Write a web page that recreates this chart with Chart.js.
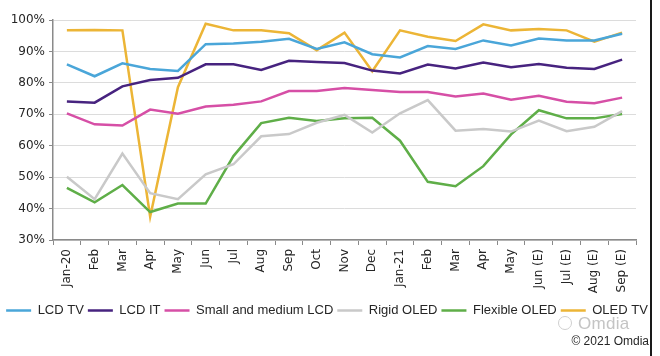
<!DOCTYPE html>
<html>
<head>
<meta charset="utf-8">
<script src="https://cdn.jsdelivr.net/npm/chart.js@4/dist/chart.umd.min.js"></script>
<style>
  html, body { margin: 0; padding: 0; background: #ffffff; }
  #wrap { position: relative; width: 660px; height: 356px; overflow: hidden; }
  #c { position: absolute; left: 0; top: 0; }
  #border { position: absolute; left: 650px; top: 0; width: 2px; height: 356px; background: #1a1a1a; }
  #wm { position: absolute; left: 558px; top: 314px; font-family: "Liberation Sans", sans-serif; font-size: 17px; color: #c4c4c4; letter-spacing: 0.3px; }
  #wm .ic { display: inline-block; width: 12px; height: 12px; border: 1.5px solid #cfcfcf; border-radius: 50%; margin-right: 6px; vertical-align: -1px; }
  #copy { position: absolute; right: 11px; top: 334px; font-family: "Liberation Sans", sans-serif; font-size: 12px; color: #262626; }
</style>
</head>
<body>
<div id="wrap">
  <canvas id="c" width="660" height="356"></canvas>
  <div id="border"></div>
  <div id="wm"><span class="ic"></span>Omdia</div>
  <div id="copy">© 2021 Omdia</div>
</div>
<script>
const categories = ["Jan-20","Feb","Mar","Apr","May","Jun","Jul","Aug","Sep","Oct","Nov","Dec","Jan-21","Feb","Mar","Apr","May","Jun (E)","Jul (E)","Aug (E)","Sep (E)"];
const lcdTV      = [85.9,82.1,86.2,84.4,83.8,92.3,92.5,93.1,94.0,90.8,92.9,89.1,88.1,91.7,90.8,93.5,91.9,94.1,93.5,93.5,95.6];
const lcdIT      = [74.1,73.7,78.9,80.9,81.6,85.9,85.9,84.1,87.0,86.6,86.3,83.9,83.0,85.8,84.6,86.5,85.0,86.0,84.8,84.4,87.4];
const smallMedLCD= [70.3,66.8,66.4,71.5,70.2,72.5,73.0,74.1,77.4,77.4,78.4,77.7,77.1,77.1,75.7,76.6,74.6,75.9,74.0,73.5,75.3];
const rigidOLED  = [50.1,43.0,57.5,44.9,43.0,50.9,54.1,63.0,63.7,67.3,69.8,64.2,70.3,74.5,64.8,65.3,64.5,68.0,64.6,66.0,71.0];
const flexOLED   = [46.6,42.0,47.5,38.9,41.6,41.6,56.7,67.2,68.9,67.9,68.7,68.9,61.6,48.5,47.1,53.5,63.6,71.3,68.7,68.7,70.1];
const oledTV     = [96.7,96.8,96.7,37.4,78.6,98.8,96.7,96.7,95.8,90.4,96.0,83.7,96.7,94.7,93.3,98.6,96.7,97.1,96.7,93.1,96.0];
const yTicks     = [30,40,50,60,70,80,90,100];

const seriesNames  = ["LCD TV","LCD IT","Small and medium LCD","Rigid OLED","Flexible OLED","OLED TV"];
const seriesData   = [lcdTV, lcdIT, smallMedLCD, rigidOLED, flexOLED, oledTV];
const seriesColors = ["#4aa6d9","#47237f","#d64fa6","#c9c9c9","#5fae48","#ecb536"];

const datasets = seriesNames.map((n, i) => ({
  label: n,
  data: seriesData[i],
  borderColor: seriesColors[i],
  backgroundColor: seriesColors[i],
  borderWidth: 2.5,
  pointRadius: 0,
  tension: 0,
  fill: false
}));
// draw order: later datasets drawn on top; keep OLED TV on top like reference
const axisGray = "#8a8a8a";
const tickFont = { family: "DejaVu Sans", size: 12 };

new Chart(document.getElementById("c"), {
  type: "line",
  data: { labels: categories, datasets },
  options: {
    responsive: false,
    animation: false,
    layout: { padding: { top: 20, left: 0, right: 6, bottom: 29 } },
    plugins: {
      tooltip: { enabled: false },
      legend: {
        position: "bottom",
        align: "center",
        labels: {
          font: { family: "Liberation Sans", size: 13 },
          color: "#262626",
          boxWidth: 25,
          boxHeight: 2.5,
          padding: 4,
          generateLabels: (chart) => Chart.defaults.plugins.legend.labels.generateLabels(chart).map(l => Object.assign(l, { lineWidth: 0 }))
        }
      }
    },
    scales: {
      x: {
        offset: true,
        grid: { display: true, drawOnChartArea: false, tickLength: 5, tickColor: axisGray, offset: true },
        border: { color: axisGray, width: 1.5 },
        ticks: { font: tickFont, color: "#262626", minRotation: 90, maxRotation: 90, autoSkip: false, padding: 4 },
        afterFit: (s) => { s.height = 60; }
      },
      y: {
        min: 30, max: 100,
        afterBuildTicks: (s) => { s.ticks = yTicks.map(v => ({ value: v })); },
        grid: { color: "#dcdcdc", lineWidth: 1, tickLength: 4, tickColor: axisGray },
        border: { color: axisGray, width: 1.5 },
        ticks: { font: tickFont, color: "#262626", padding: 4, callback: (v) => v + "%" },
        afterFit: (s) => { s.width = 53; }
      },
      yR: {
        axis: "y",
        position: "right",
        display: true,
        grid: { display: false, drawTicks: false },
        border: { display: false },
        ticks: { display: false },
        afterFit: (s) => { s.width = 18; }
      }
    }
  }
});
</script>
</body>
</html>
